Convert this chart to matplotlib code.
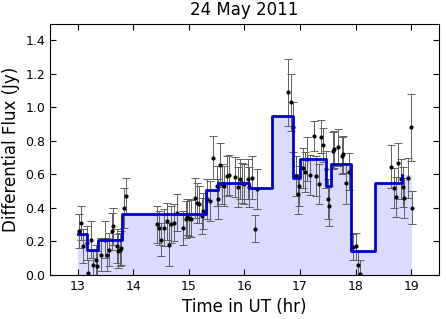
import matplotlib
matplotlib.use("Agg")
import matplotlib.pyplot as plt
import numpy as np

# block edges (hr) and block flux levels (Jy)
edges = [13.0, 13.17, 13.37, 13.79, 15.30, 15.53, 16.08, 16.50, 16.88, 17.00,
         17.47, 17.56, 17.92, 18.35, 18.83, 19.01]
levels = [0.24, 0.145, 0.205, 0.365, 0.505, 0.545, 0.515, 0.945, 0.58, 0.69,
          0.53, 0.66, 0.14, 0.55, 0.595]

# measured points
t = [13.03, 13.06, 13.10, 13.16, 13.19, 13.23, 13.28, 13.32, 13.35, 13.41,
     13.49, 13.52, 13.57, 13.61, 13.64, 13.70, 13.73, 13.76, 13.78, 13.83,
     13.86,
     14.43, 14.46, 14.50, 14.55, 14.60, 14.64, 14.68, 14.73, 14.78, 14.89,
     14.94, 14.97, 15.01, 15.04, 15.11, 15.14, 15.18, 15.23, 15.26,
     15.33, 15.38, 15.43, 15.50, 15.52, 15.56, 15.60, 15.64, 15.69, 15.73,
     15.83, 15.88, 15.92, 15.96, 16.00, 16.06, 16.09, 16.14, 16.19, 16.23,
     16.79, 16.83, 16.87, 16.93, 16.96, 16.99, 17.05, 17.09, 17.13, 17.18,
     17.25, 17.29, 17.34, 17.37, 17.41, 17.46, 17.50, 17.53, 17.60, 17.62,
     17.69, 17.76, 17.78, 17.83, 17.89, 17.96, 18.00, 18.04, 18.08,
     18.64, 18.69, 18.72, 18.76, 18.82, 18.86, 18.88, 18.94, 18.99, 19.02]
flux = [0.26, 0.31, 0.17, 0.19, 0.01, 0.21, 0.06, 0.09, 0.05, 0.12,
        0.21, 0.12, 0.15, 0.26, 0.29, 0.17, 0.14, 0.15, 0.16, 0.40,
        0.47,
        0.30, 0.28, 0.21, 0.28, 0.32, 0.18, 0.30, 0.31, 0.37, 0.28,
        0.33, 0.345, 0.34, 0.335, 0.46, 0.43, 0.42, 0.35, 0.38,
        0.45, 0.44, 0.70, 0.53, 0.45, 0.655, 0.54, 0.53, 0.59, 0.595,
        0.585, 0.525, 0.57, 0.55, 0.54, 0.57, 0.525, 0.58, 0.275, 0.51,
        1.09, 1.03, 0.88, 0.59, 0.48, 0.53, 0.635, 0.615, 0.69, 0.595,
        0.83, 0.59, 0.54, 0.825, 0.775, 0.63, 0.45, 0.41, 0.74, 0.75,
        0.76, 0.71, 0.72, 0.545, 0.615, 0.165, 0.17, 0.055, 0.005,
        0.645, 0.52, 0.465, 0.665, 0.57, 0.525, 0.46, 0.58, 0.88, 0.40]
err = [0.10, 0.10, 0.10, 0.10, 0.08, 0.11, 0.09, 0.09, 0.09, 0.10,
       0.11, 0.10, 0.10, 0.11, 0.11, 0.10, 0.10, 0.10, 0.10, 0.12,
       0.11,
       0.11, 0.10, 0.10, 0.11, 0.11, 0.13, 0.11, 0.11, 0.11, 0.10,
       0.11, 0.11, 0.11, 0.11, 0.12, 0.12, 0.11, 0.11, 0.11,
       0.12, 0.12, 0.13, 0.12, 0.12, 0.13, 0.12, 0.12, 0.12, 0.12,
       0.12, 0.12, 0.12, 0.12, 0.12, 0.12, 0.12, 0.13, 0.08, 0.12,
       0.20, 0.17, 0.15, 0.12, 0.12, 0.12, 0.12, 0.12, 0.13, 0.12,
       0.09, 0.12, 0.12, 0.10, 0.10, 0.11, 0.12, 0.12, 0.11, 0.11,
       0.11, 0.11, 0.11, 0.12, 0.11, 0.08, 0.08, 0.08, 0.08,
       0.13, 0.12, 0.12, 0.12, 0.12, 0.12, 0.12, 0.12, 0.20, 0.10]

plt.rcParams['xtick.direction'] = 'in'
plt.rcParams['ytick.direction'] = 'in'
plt.rcParams['xtick.top'] = True
plt.rcParams['ytick.right'] = True

fig = plt.figure(figsize=(4.46, 3.19), dpi=100)
ax = fig.add_axes([0.112, 0.139, 0.872, 0.787])

widths = np.diff(edges)
ax.bar(edges[:-1], levels, width=widths, align='edge', color='blue',
       alpha=0.14, linewidth=0)
ax.step(edges[:-1], levels, where='post', color='#0000cc', lw=2, zorder=3)
ax.errorbar(t, flux, yerr=err, fmt='.k', ecolor='#606060', elinewidth=0.7,
            capsize=3, capthick=0.7, markersize=4, zorder=2)

ax.set_xlim(12.5, 19.5)
ax.set_ylim(0, 1.5)
ax.set_xticks(range(13, 20))
ax.set_yticks(np.arange(0, 1.41, 0.2))
ax.tick_params(labelsize=9, length=4)
ax.set_xlabel("Time in UT (hr)", fontsize=12)
ax.set_ylabel("Differential Flux (Jy)", fontsize=12)
ax.set_title("24 May 2011", fontsize=12)

fig.savefig("out.png", dpi=100)
